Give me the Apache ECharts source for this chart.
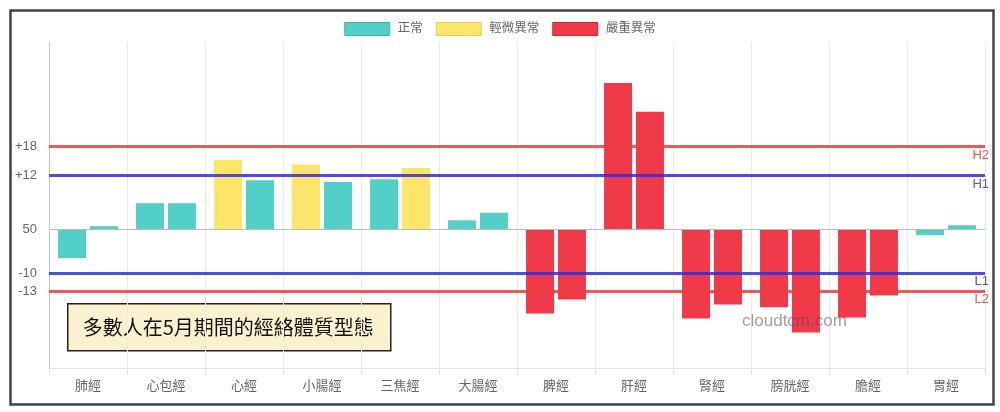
<!DOCTYPE html>
<html><head><meta charset="utf-8">
<script src="https://cdn.jsdelivr.net/npm/echarts@6/dist/echarts.min.js"></script>
<style>html,body{margin:0;padding:0;background:#fff}#c{width:1000px;height:412px}</style>
</head><body><div id="c"></div>
<script>
const categories = ['肺經','心包經','心經','小腸經','三焦經','大腸經','脾經','肝經','腎經','膀胱經','膽經','胃經'];
const leftValues = [-6.4, 5.8, 15.4, 14.4, 11.1, 2.0, -18.7, 32.5, -19.8, -17.3, -19.6, -1.3];
const rightValues = [0.7, 5.8, 10.9, 10.5, 13.6, 3.7, -15.6, 26.1, -16.7, -22.9, -14.7, 0.9];
const leftLevel = [0, 0, 1, 1, 0, 0, 2, 2, 2, 2, 2, 0];
const rightLevel = [0, 0, 0, 0, 1, 0, 2, 2, 2, 2, 2, 0];
const levelNames = ['正常', '輕微異常', '嚴重異常'];
const thresholdPos = [18.35, 11.9, -9.7, -13.7];
const thresholdTicks = ['+18', '+12', '-10', '-13'];
const thresholdNames = ['H2', 'H1', 'L1', 'L2'];
const baseTick = '50';
const titleText = '多數人在5月期間的經絡體質型態';
const watermark = 'cloudtcm.com';

const levelColors = ['#52D0C7', '#FDE56A', '#F03A49'];
const levelBorders = ['#3fb3aa', '#e8cc55', '#c92a38'];
const thColors = ['rgba(238,60,60,0.85)', 'rgba(45,45,230,0.85)', 'rgba(45,45,230,0.85)', 'rgba(238,60,60,0.85)'];
const thLabelColors = ['#e25555', '#5050d8', '#5050d8', '#e25555'];
const FONT = "'Liberation Sans','Noto Sans CJK TC',sans-serif";

function barData(vals, lv) {
  return vals.map((v, i) => ({ value: v, itemStyle: { color: levelColors[lv[i]] } }));
}

const ml = [];
thresholdPos.forEach((p, i) => {
  ml.push({ yAxis: p, lineStyle: { color: thColors[i], width: 3, type: 'solid' },
    label: { show: true, position: 'start', formatter: thresholdTicks[i], color: '#666', fontSize: 13, fontFamily: FONT, distance: 12 } });
  ml.push({ yAxis: p, lineStyle: { color: 'rgba(0,0,0,0)', width: 1, type: 'solid' },
    label: { show: true, position: 'insideEndBottom', formatter: thresholdNames[i], color: thLabelColors[i], fontSize: 13, fontFamily: FONT, distance: [-4, 2] } });
});
ml.push({ yAxis: 0, lineStyle: { color: '#bbb', width: 1, type: 'solid' },
  label: { show: true, position: 'start', formatter: baseTick, color: '#666', fontSize: 13, fontFamily: FONT, distance: 12 } });

const chart = echarts.init(document.getElementById('c'), null, { renderer: 'canvas' });
chart.setOption({
  animation: false,
  backgroundColor: '#fff',
  textStyle: { fontFamily: FONT },
  legend: {
    top: 17, left: 'center', itemWidth: 45, itemHeight: 13, itemGap: 13,
    textStyle: { color: '#666', fontSize: 12.5, fontFamily: FONT, padding: [0, 0, 0, 3] },
    data: levelNames.map((n, i) => ({ name: n, icon: 'rect', itemStyle: { color: levelColors[i], borderColor: levelBorders[i], borderWidth: 1 } }))
  },
  grid: [
    { left: 49, right: 15, top: 42, bottom: 44, containLabel: false },
    { left: 49, right: 15, top: 42, bottom: 44, show: false }
  ],
  xAxis: [
    { type: 'category', data: categories, gridIndex: 0,
      axisLine: { show: true, onZero: false, lineStyle: { color: '#e2e2e2' } },
      axisTick: { show: true, length: 7, lineStyle: { color: '#e2e2e2' } },
      splitLine: { show: true, lineStyle: { color: '#ebebeb' } },
      axisLabel: { color: '#666', fontSize: 13, margin: 12, fontFamily: FONT } },
    { type: 'category', data: categories, gridIndex: 1, show: false }
  ],
  yAxis: [
    { type: 'value', min: -30.8, max: 41.6, gridIndex: 0,
      axisLine: { show: true, lineStyle: { color: '#c4c4c4' } },
      axisTick: { show: false }, axisLabel: { show: false }, splitLine: { show: false } },
    { type: 'value', gridIndex: 1, show: false, min: 0, max: 1 }
  ],
  series: [
    { name: 'L', type: 'bar', data: barData(leftValues, leftLevel), barWidth: 28, barGap: '14%', z: 2 },
    { name: 'R', type: 'bar', data: barData(rightValues, rightLevel), barWidth: 28, barGap: '14%', z: 2,
      markLine: { silent: true, symbol: ['none', 'none'], animation: false, z: 5, data: ml } },
    ...levelNames.map((n, i) => ({ name: n, type: 'bar', xAxisIndex: 1, yAxisIndex: 1, data: [], itemStyle: { color: levelColors[i] } }))
  ],
  graphic: [
    { type: 'rect', left: 8, top: 8, shape: { width: 983, height: 394 }, style: { fill: 'none', stroke: '#444', lineWidth: 2.5 }, z: 100, silent: true },
    { type: 'group', left: 67, top: 303, z: 100, children: [
      { type: 'rect', shape: { x: 0, y: 0, width: 323, height: 47 }, style: { fill: '#FCF1CF', stroke: '#222', lineWidth: 1.5 } },
      { type: 'text', x: 15, y: 24, style: { text: titleText, fill: '#111', font: "20px 'Noto Sans CJK TC','Liberation Sans',sans-serif", textVerticalAlign: 'middle', verticalAlign: 'middle' } }
    ] },
    { type: 'text', left: 742, top: 313, z: 100, silent: true,
      style: { text: watermark, fill: 'rgba(80,80,80,0.55)', font: "17px 'Liberation Sans','Open Sans',sans-serif" } }
  ]
});
</script></body></html>
